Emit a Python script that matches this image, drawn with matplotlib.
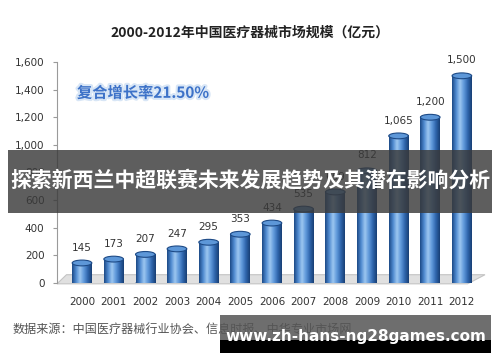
import numpy as np
import matplotlib.pyplot as plt
from matplotlib.patches import Rectangle, Ellipse, Polygon
from matplotlib.colors import LinearSegmentedColormap
import matplotlib.patheffects as pe

plt.rcParams['font.family'] = ['Noto Sans CJK SC', 'DejaVu Sans']

# chart data
years = ['2000', '2001', '2002', '2003', '2004', '2005', '2006',
         '2007', '2008', '2009', '2010', '2011', '2012']
values = [145, 173, 207, 247, 295, 353, 434, 535, 659, 812, 1065, 1200, 1500]
ytick_vals = [0, 200, 400, 600, 800, 1000, 1200, 1400, 1600]

title = '2000-2012年中国医疗器械市场规模（亿元）'
note = '复合增长率21.50%'
banner = '探索新西兰中超联赛未来发展趋势及其潜在影响分析'
source = '数据来源：中国医疗器械行业协会、信息时报、中华专业市场网'
watermark = 'www.zh-hans-ng28games.com'

W, H = 500, 362
fig = plt.figure(figsize=(W / 100, H / 100), dpi=100)
fig.patch.set_facecolor('white')

ax = fig.add_axes([57 / W, 1 - 283 / H, (485 - 57) / W, (283 - 62) / H])
x = np.arange(len(years))
xl, xr = -0.79, 12.73

# floor of the 3d chart
floor = Polygon([(xl, -6), (xr - 0.55, -6), (xr, 60), (xl + 0.3, 60)],
                closed=True, fc='#e0e0e0', ec='#c4c4c4', lw=0.8,
                zorder=1, clip_on=False)
ax.add_patch(floor)

# cylinders with a horizontal gradient
cyl = LinearSegmentedColormap.from_list(
    'cyl', ['#1d4a86', '#4f8ad0', '#9cc6f0', '#5f98da', '#2f66ad', '#183f75'])
grad = np.linspace(0, 1, 64).reshape(1, -1)
w = 0.62
for xi, v in zip(x, values):
    ax.imshow(grad, extent=(xi - w / 2, xi + w / 2, 0, v), cmap=cyl,
              aspect='auto', zorder=3, interpolation='bilinear')
    ax.add_patch(Ellipse((xi, 0), w, 40, fc='#1f4d8a', ec='none', zorder=2.9))
    ax.add_patch(Ellipse((xi, v), w, 42, fc='#5d97d8', ec='#1d4a86',
                         lw=0.8, zorder=4))
    ax.text(xi, v + 75, f'{v:,}', ha='center', va='bottom', fontsize=7.5,
            color='#333333', family='DejaVu Sans', zorder=5)

ax.set_xlim(xl, xr)
ax.set_ylim(0, 1600)
ax.set_facecolor('none')

for s in ['top', 'right', 'bottom']:
    ax.spines[s].set_visible(False)
ax.spines['left'].set_color('#9a9a9a')
ax.spines['left'].set_linewidth(0.8)

ax.set_yticks(ytick_vals)
ax.set_yticklabels([f'{t:,}' for t in ytick_vals], fontsize=7.5,
                   color='#333333', family='DejaVu Sans')
ax.tick_params(axis='y', length=3, color='#9a9a9a', pad=6)
ax.set_xticks(x)
ax.set_xticklabels(years, fontsize=7.5, color='#333333', family='DejaVu Sans')
ax.tick_params(axis='x', length=0, pad=10)

ax.text(-0.16, 1377, note, ha='left', va='center', fontsize=11,
        fontweight='bold', color='#3d72c8', zorder=5,
        path_effects=[pe.withStroke(linewidth=3, foreground='#d8e6f6')])

fig.text(0.5, 1 - 33 / H, title, ha='center', va='center', fontsize=10,
         fontweight='bold', color='#222222')

# dark banner across the middle
fig.add_artist(Rectangle((8 / W, 1 - 213 / H), 484 / W, 63 / H,
                         transform=fig.transFigure, fc='#3a3a3a',
                         alpha=0.82, ec='none', zorder=10))
fig.text(0.5, 1 - 181 / H, banner, ha='center', va='center', fontsize=15,
         fontweight='bold', color='white', zorder=11)

# source line and watermark
fig.text(13 / W, 1 - 329 / H, source, ha='left', va='center', fontsize=8.7,
         color='#555555')
fig.add_artist(Rectangle((220 / W, 1 - 340 / H), 271 / W, 25 / H,
                         transform=fig.transFigure, fc='#555555',
                         alpha=0.85, ec='none', zorder=10))
fig.add_artist(Rectangle((220 / W, 1 - 353 / H), 271 / W, 13 / H,
                         transform=fig.transFigure, fc='black',
                         ec='none', zorder=10))
fig.text(356 / W, 1 - 336 / H, watermark, ha='center', va='center',
         fontsize=11, fontweight='bold', color='white',
         family='DejaVu Sans', zorder=11)

fig.savefig('out.png', dpi=100)
